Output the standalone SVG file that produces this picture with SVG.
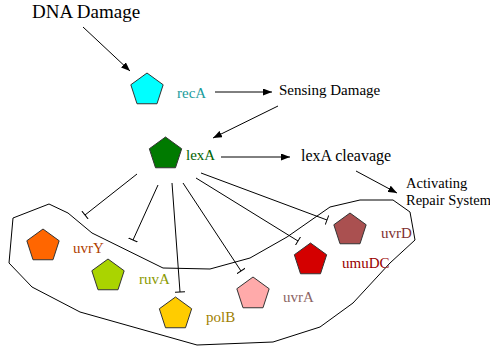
<svg xmlns="http://www.w3.org/2000/svg" width="490" height="349" viewBox="0 0 490 349" font-family="'Liberation Serif', 'DejaVu Serif', serif">
<style>
text { font-family: "Liberation Serif", "DejaVu Serif", serif; }
.lbl { font-size: 15px; }
.con { stroke: #000; stroke-width: 1; fill: none; }
.pent { stroke: #333; stroke-width: 1; }
</style>
<defs>
<marker id="arr" markerUnits="userSpaceOnUse" markerWidth="9" markerHeight="7" refX="9" refY="3.5" orient="auto">
<path d="M0,0 L9,3.5 L0,7 Z" fill="#000"/>
</marker>
<marker id="bar" markerUnits="userSpaceOnUse" markerWidth="2" markerHeight="10" refX="1" refY="5" orient="auto">
<path d="M1,0 L1,10" stroke="#000" stroke-width="1"/>
</marker>
<polygon id="pg" points="0,-17 16.17,-5.25 9.99,13.75 -9.99,13.75 -16.17,-5.25"/>
</defs>
<rect width="490" height="349" fill="#fff"/>
<g id="region">
<path class="con" stroke-linejoin="round" d="M13,218 L49,204 L68,213 L92,233 L163,268 L210,269 L250,258 L287,237 L330,207 L360,200 L393,200 L410,212 L415,240 L390,263 L353,303 L320,327 L273,342 L197,345 L80,312 L32,287 L9,263 Z"/>
</g>
<g id="connectors">
<line class="con" x1="83" y1="27" x2="130" y2="71" marker-end="url(#arr)"/>
<line class="con" x1="215" y1="92" x2="272" y2="92" marker-end="url(#arr)"/>
<line class="con" x1="278" y1="106" x2="213" y2="138" marker-end="url(#arr)"/>
<line class="con" x1="221" y1="157" x2="290" y2="157" marker-end="url(#arr)"/>
<line class="con" x1="356" y1="171" x2="397" y2="193" marker-end="url(#arr)"/>
<line class="con" x1="137" y1="174" x2="85" y2="215" marker-end="url(#bar)"/>
<line class="con" x1="158" y1="185" x2="133" y2="240" marker-end="url(#bar)"/>
<line class="con" x1="172" y1="183" x2="180" y2="292" marker-end="url(#bar)"/>
<line class="con" x1="183" y1="183" x2="241" y2="271" marker-end="url(#bar)"/>
<line class="con" x1="196" y1="178" x2="298" y2="241" marker-end="url(#bar)"/>
<line class="con" x1="201" y1="173" x2="327" y2="220" marker-end="url(#bar)"/>
</g>
<g id="dna-damage">
<text x="32" y="18" font-size="19" fill="#000">DNA Damage</text>
</g>
<g id="recA">
<use href="#pg" x="147" y="90" class="pent" fill="#00ffff"/>
<text x="177" y="98" class="lbl" fill="#1a9c9c">recA</text>
</g>
<g id="sensing-damage">
<text x="279" y="95" class="lbl" fill="#000">Sensing Damage</text>
</g>
<g id="lexA">
<use href="#pg" x="165.5" y="154" class="pent" fill="#007a00"/>
<text x="186" y="160" class="lbl" fill="#006400">lexA</text>
</g>
<g id="lexA-cleavage">
<text x="301" y="161" font-size="16" fill="#000">lexA cleavage</text>
</g>
<g id="activating">
<text x="406" y="188" font-size="14.5" fill="#000">Activating</text>
<text x="406" y="205" font-size="14.5" fill="#000">Repair System</text>
</g>
<g id="uvrY">
<use href="#pg" x="43" y="246" class="pent" fill="#ff6600"/>
<text x="73" y="253" class="lbl" fill="#b04000">uvrY</text>
</g>
<g id="ruvA">
<use href="#pg" x="108" y="276" class="pent" fill="#aad400"/>
<text x="139" y="284" class="lbl" fill="#8a9a00">ruvA</text>
</g>
<g id="polB">
<use href="#pg" x="175.5" y="314" class="pent" fill="#ffcc00"/>
<text x="206" y="322" class="lbl" fill="#a08000">polB</text>
</g>
<g id="uvrA">
<use href="#pg" x="253" y="294" class="pent" fill="#ffaaaa"/>
<text x="283" y="302" class="lbl" fill="#8c6464">uvrA</text>
</g>
<g id="umuDC">
<use href="#pg" x="310.5" y="260" class="pent" fill="#d40000"/>
<text x="342" y="268" class="lbl" fill="#990000">umuDC</text>
</g>
<g id="uvrD">
<use href="#pg" x="350" y="230" class="pent" fill="#aa5050"/>
<text x="381" y="238" class="lbl" fill="#803030">uvrD</text>
</g>
</svg>
